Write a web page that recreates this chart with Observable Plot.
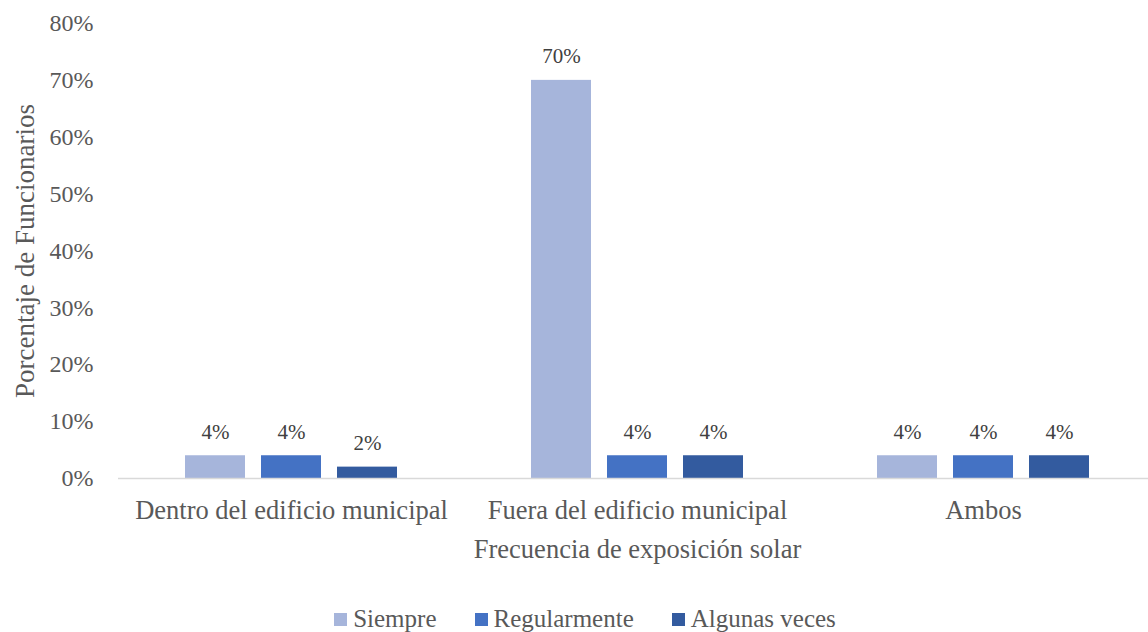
<!DOCTYPE html>
<html>
<head>
<meta charset="utf-8">
<script src="https://cdn.jsdelivr.net/npm/d3@7"></script>
<script src="https://cdn.jsdelivr.net/npm/@observablehq/plot@0.6"></script>
<style>
  html, body { margin: 0; padding: 0; background: #ffffff; }
  body { width: 1148px; height: 632px; overflow: hidden; font-family: "Liberation Serif", "DejaVu Serif", serif; }
  #legend { display: flex; justify-content: center; align-items: center; margin-top: 3px; height: 32px; line-height: 32px; padding-left: 22px;
            font-size: 25px; color: #595959; font-family: "Liberation Serif", "DejaVu Serif", serif; }
  .item { display: flex; align-items: center; margin: 0 19px; }
  .sw { width: 13px; height: 13px; margin-right: 6px; display: inline-block; }
  svg text { font-family: "Liberation Serif", "DejaVu Serif", serif; }
</style>
</head>
<body>
<div id="chart"></div>
<div id="legend"></div>
<script>
const categories = ["Dentro del edificio municipal", "Fuera del edificio municipal", "Ambos"];
const seriesNames = ["Siempre", "Regularmente", "Algunas veces"];
const siempre = [0.04, 0.70, 0.04];
const regularmente = [0.04, 0.04, 0.04];
const algunasVeces = [0.02, 0.04, 0.04];
const yTicks = [0, 0.1, 0.2, 0.3, 0.4, 0.5, 0.6, 0.7, 0.8];
const colors = ["#a6b5db", "#4472c4", "#335b9f"];
const xTitle = "Frecuencia de exposición solar";
const yTitle = "Porcentaje de Funcionarios";

const seriesValues = [siempre, regularmente, algunasVeces];
const data = [];
categories.forEach((c, i) => {
  seriesNames.forEach((s, j) => {
    data.push({category: c, series: s, value: seriesValues[j][i]});
  });
});

const font = "Liberation Serif, DejaVu Serif, serif";
const pct = d3.format(".0%");

const chart = Plot.plot({
  width: 1148,
  height: 600,
  marginTop: 23,
  marginBottom: 122,
  marginLeft: 117,
  marginRight: -9,
  style: {fontFamily: font, color: "#595959", background: "#ffffff", overflow: "hidden"},
  fx: {domain: categories, padding: 0},
  x: {domain: seriesNames, paddingInner: 0.208, paddingOuter: 0.857, axis: null},
  y: {domain: [0, 0.8]},
  color: {domain: seriesNames, range: colors},
  marks: [
    Plot.barY(data, {fx: "category", x: "series", y: "value", fill: "series"}),
    Plot.ruleY([0], {stroke: "#d9d9d9", strokeWidth: 1.5}),
    Plot.text(data, {fx: "category", x: "series", y: "value", text: d => pct(d.value),
      lineAnchor: "bottom", dy: -17, fontSize: 21, fill: "#404040"}),
    Plot.axisY({ticks: yTicks, tickFormat: pct, tickSize: 0, tickPadding: 25, fontSize: 24, label: null, fill: "#595959"}),
    Plot.axisY({ticks: [], tickSize: 0, label: yTitle, labelAnchor: "center", labelOffset: 104, labelArrow: "none", fontSize: 27, fill: "#595959"}),
    Plot.axisFx({anchor: "bottom", tickSize: 0, tickPadding: 22, fontSize: 26.5, fill: "#595959",
      label: xTitle, labelAnchor: "center", labelOffset: 79, labelArrow: "none"})
  ]
});
document.getElementById("chart").appendChild(chart);

const legend = document.getElementById("legend");
seriesNames.forEach((s, i) => {
  const item = document.createElement("span");
  item.className = "item";
  const sw = document.createElement("span");
  sw.className = "sw";
  sw.style.background = colors[i];
  const t = document.createElement("span");
  t.textContent = s;
  item.appendChild(sw);
  item.appendChild(t);
  legend.appendChild(item);
});
</script>
</body>
</html>
